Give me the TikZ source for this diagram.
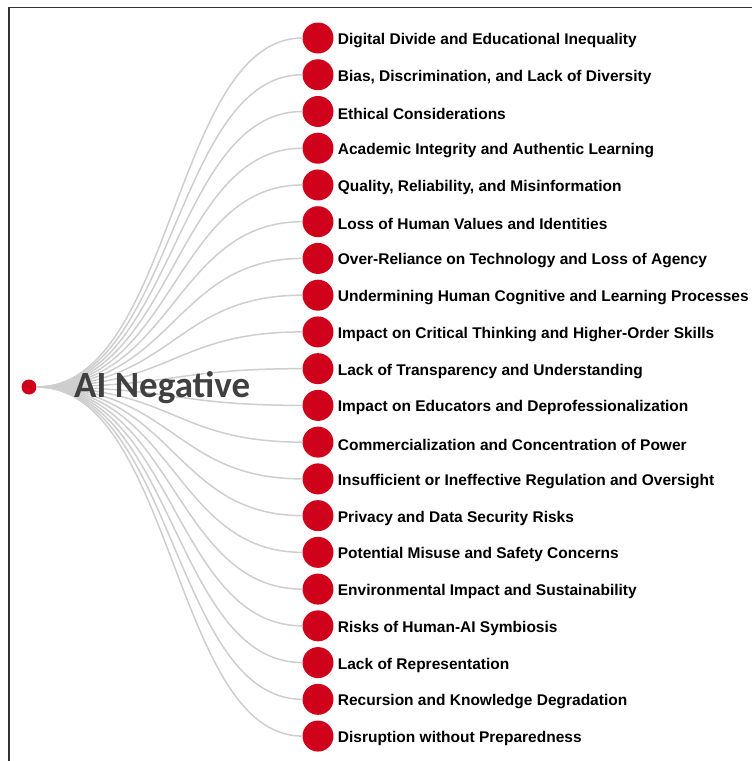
\documentclass[tikz,border=0pt]{standalone}
\usepackage{fontspec}
\setmainfont{Liberation Sans}
\newfontfamily\rootfont{Carlito}
\usetikzlibrary{positioning}
\definecolor{dotred}{RGB}{208,2,27}
\definecolor{linkgray}{RGB}{206,206,206}
\definecolor{rootgray}{RGB}{64,64,64}
\tikzset{
    %Define style for the dots
    rootdot/.style={
           circle,
           fill=dotred,
           minimum size=15pt,
           inner sep=0pt},
    leafdot/.style={
           circle,
           fill=dotred,
           minimum size=31pt,
           inner sep=0pt},
    %Define style for the texts
    rootlabel/.style={
           inner sep=0pt,
           anchor=base west,
           text=rootgray,
           font=\rootfont\bfseries\fontsize{37}{40}\selectfont},
    leaflabel/.style={
           inner sep=0pt,
           yshift=-2.5pt,
           text=black,
           font=\bfseries\fontsize{15.5}{18}\selectfont},
    % Define link style
    link/.style={
           draw=linkgray,
           line width=1.5pt},
    frameline/.style={
           draw=black!80,
           line width=1.5pt}
}
\begin{document}
\begin{tikzpicture}[x=1pt,y=-1pt]
\useasboundingbox (0,0) rectangle (752,761);
\draw[frameline] (9,761) -- (9,7.5) -- (752,7.5);
 %nodes
\node[rootdot] (root) at (29,387) {};
\foreach \lbl [count=\i] in {
    Digital Divide and Educational Inequality,
    {Bias, Discrimination, and Lack of Diversity},
    Ethical Considerations,
    Academic Integrity and Authentic Learning,
    {Quality, Reliability, and Misinformation},
    Loss of Human Values and Identities,
    Over-Reliance on Technology and Loss of Agency,
    Undermining Human Cognitive and Learning Processes,
    Impact on Critical Thinking and Higher-Order Skills,
    Lack of Transparency and Understanding,
    Impact on Educators and Deprofessionalization,
    Commercialization and Concentration of Power,
    Insufficient or Ineffective Regulation and Oversight,
    Privacy and Data Security Risks,
    Potential Misuse and Safety Concerns,
    Environmental Impact and Sustainability,
    Risks of Human-AI Symbiosis,
    Lack of Representation,
    Recursion and Knowledge Degradation,
    Disruption without Preparedness}
{
  \pgfmathsetmacro\yy{38+36.74*(\i-1)}
  \node[leafdot] (leaf\i) at (318,\yy) {};
  \node[leaflabel, right=4pt of leaf\i] (label\i) {\lbl};
  \draw[link] (root) .. controls (173.5,387) and (173.5,\yy) .. (leaf\i);
}
\node[rootlabel] (rootname) at (74,397) {AI Negative};
\end{tikzpicture}
\end{document}
